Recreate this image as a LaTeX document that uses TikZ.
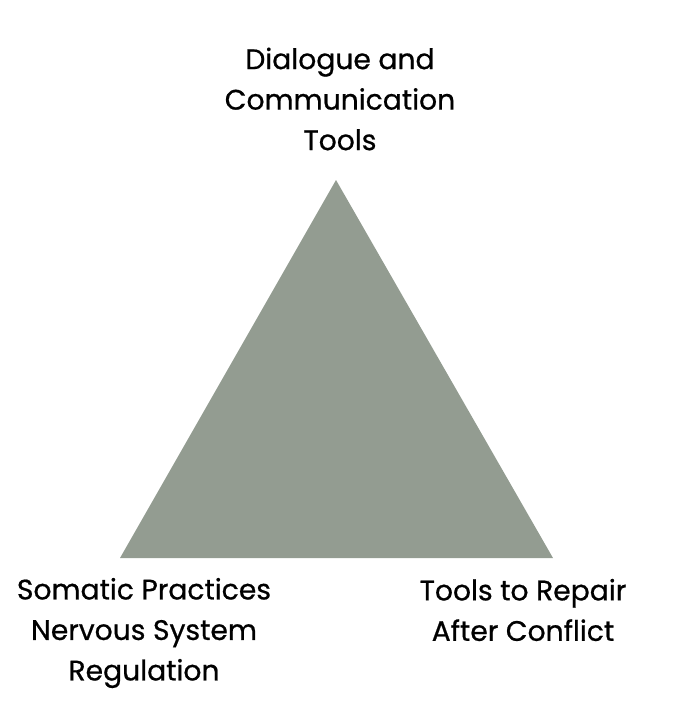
\documentclass[tikz,border=0pt]{standalone}
\usepackage{fontspec}
\newfontfamily\lblfont[FakeBold=0.7]{Poppins}
\usetikzlibrary{positioning}
\definecolor{sage}{RGB}{147,156,145}

\begin{document}
\begin{tikzpicture}[x=1pt, y=-1pt,
    lbl/.style={align=center, inner sep=0pt, font=\lblfont\fontsize{28.2}{40.5}\selectfont}]
  \useasboundingbox (0,0) rectangle (675,716);
  \coordinate (apex) at (336,180);
  \coordinate (left) at (120,558);
  \coordinate (right) at (553,558);
  \fill[sage] (apex) -- (left) -- (right) -- cycle;
  \node[lbl] (dialogue) at (340,99) {Dialogue and\\Communication\\Tools};
  \node[lbl] (somatic) at (144,633) {Somatic Practices\\Nervous System\\Regulation};
  \node[lbl] (repair) at (523,610) {Tools to Repair\\After Conflict};
\end{tikzpicture}
\end{document}
